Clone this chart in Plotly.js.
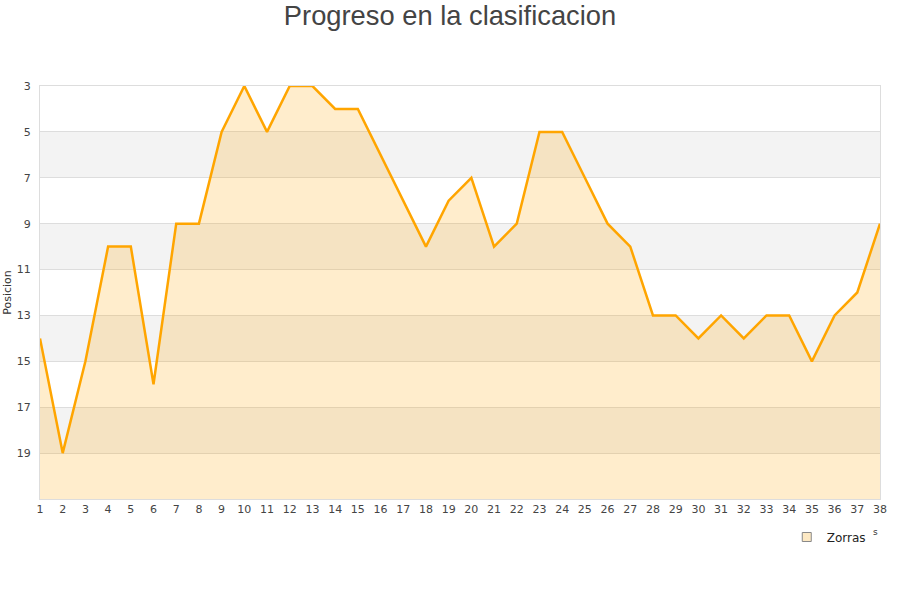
<!DOCTYPE html>
<html>
<head>
<meta charset="utf-8">
<script src="https://cdn.plot.ly/plotly-3.0.1.min.js"></script>
<style>html,body{margin:0;padding:0;background:#fff}#chart{width:900px;height:600px}</style>
</head>
<body>
<div id="chart"></div>
<script>
const jornadas = [1,2,3,4,5,6,7,8,9,10,11,12,13,14,15,16,17,18,19,20,21,22,23,24,25,26,27,28,29,30,31,32,33,34,35,36,37,38];
const posicion = [14,19,15,10,10,16,9,9,5,3,5,3,3,4,4,6,8,10,8,7,10,9,5,5,7,9,10,13,13,14,13,14,13,13,15,13,12,9];
const yTicks = [3,5,7,9,11,13,15,17,19];
const seriesName = 'Zorras';
const yMin = 3, yMax = 21;

const floorY = jornadas.map(() => yMax);

const traces = [
  {x: jornadas, y: floorY, mode: 'lines', line: {width: 0, color: 'rgba(0,0,0,0)'}, showlegend: false, hoverinfo: 'skip'},
  {x: jornadas, y: posicion, mode: 'lines', fill: 'tonexty', fillcolor: 'rgba(255,165,0,0.2)',
   line: {color: '#ffa500', width: 2.5}, showlegend: false, name: seriesName},
  {x: [null], y: [null], mode: 'markers', name: seriesName,
   marker: {symbol: 'square', size: 9, color: '#fde9c4', line: {color: '#888', width: 1}}}
];

const shapes = [];
for (let i = 1; i < yTicks.length; i += 2) {
  shapes.push({type: 'rect', xref: 'paper', yref: 'y', x0: 0, x1: 1, y0: yTicks[i], y1: yTicks[i] + 2,
    fillcolor: '#f3f3f3', line: {width: 0}, layer: 'below'});
}

const layout = {
  width: 900, height: 600,
  margin: {l: 40, r: 20, t: 86, b: 101},
  paper_bgcolor: '#fff', plot_bgcolor: '#fff',
  title: {text: 'Progreso en la clasificacion', font: {family: 'Liberation Sans, Arial, sans-serif', size: 27.3, color: '#444'},
          x: 0.5, xref: 'container', xanchor: 'center', y: 0.975, yanchor: 'middle'},
  showlegend: true,
  legend: {x: 0.889, xanchor: 'left', y: -0.092, yanchor: 'middle', bgcolor: 'rgba(0,0,0,0)',
           font: {family: 'DejaVu Sans, sans-serif', size: 12, color: '#222'}, itemwidth: 30},
  xaxis: {range: [1, 38], tickmode: 'array', tickvals: jornadas, ticktext: jornadas.map(String),
          showgrid: false, zeroline: false, showline: true, linecolor: '#ddd', mirror: true,
          ticks: '', tickfont: {family: 'DejaVu Sans, sans-serif', size: 11, color: '#444'}},
  yaxis: {range: [yMax, yMin], tickmode: 'array', tickvals: yTicks, ticktext: yTicks.map(String),
          showgrid: true, gridcolor: '#ddd', zeroline: false, showline: true, linecolor: '#ddd', mirror: true,
          ticks: '', ticklen: 0, ticklabelstandoff: 6,
          tickfont: {family: 'DejaVu Sans, sans-serif', size: 11, color: '#444'},
          title: {text: 'Posicion', font: {family: 'DejaVu Sans, sans-serif', size: 11, color: '#333'}, standoff: 2}},
  shapes: shapes,
  annotations: [{xref: 'paper', yref: 'paper', x: 1.0, y: -0.097, text: 's', showarrow: false,
                 font: {family: 'DejaVu Sans, sans-serif', size: 9, color: '#333'}}]
};

Plotly.newPlot('chart', traces, layout, {staticPlot: true, displayModeBar: false});
</script>
</body>
</html>
